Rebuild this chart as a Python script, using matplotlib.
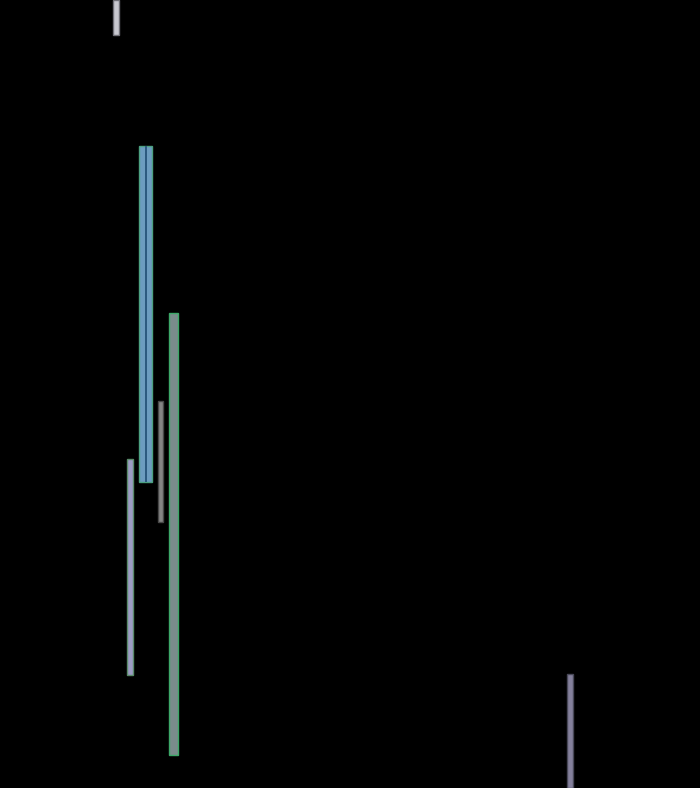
import matplotlib
matplotlib.use("Agg")
import matplotlib.pyplot as plt

# floating bars, arbitrary units (x 0-100, y 0-100)
pos = [16.6, 18.6, 20.8, 22.9, 24.8, 81.4]
widths = [0.8, 0.8, 1.8, 0.65, 1.2, 0.9]
lows = [95.6, 14.3, 38.8, 33.8, 4.2, 0.0]
highs = [100.0, 41.8, 81.5, 49.1, 60.3, 14.5]
colors = ["#c8c8d0", "#9c9cc4", "#6c9cc0", "#858585", "#7a8c8c", "#84809c"]
edges = ["#707078", "#5a8a6a", "#4ca080", "#484848", "#3ca868", "#484858"]

fig = plt.figure(figsize=(7, 7.88), dpi=100)
fig.patch.set_facecolor("black")
ax = fig.add_axes([0, 0, 1, 1])
ax.set_facecolor("black")

heights = [h - l for h, l in zip(highs, lows)]
ax.bar(pos, heights, width=widths, bottom=lows, color=colors,
       edgecolor=edges, linewidth=1)
# darker centre stripe on the wide bar
ax.bar(pos[2], heights[2], width=0.3, bottom=lows[2], color="#2c5a80",
       linewidth=0)

ax.set_xlim(0, 100)
ax.set_ylim(0, 100)
ax.axis("off")

fig.savefig("out.png", facecolor="black")
